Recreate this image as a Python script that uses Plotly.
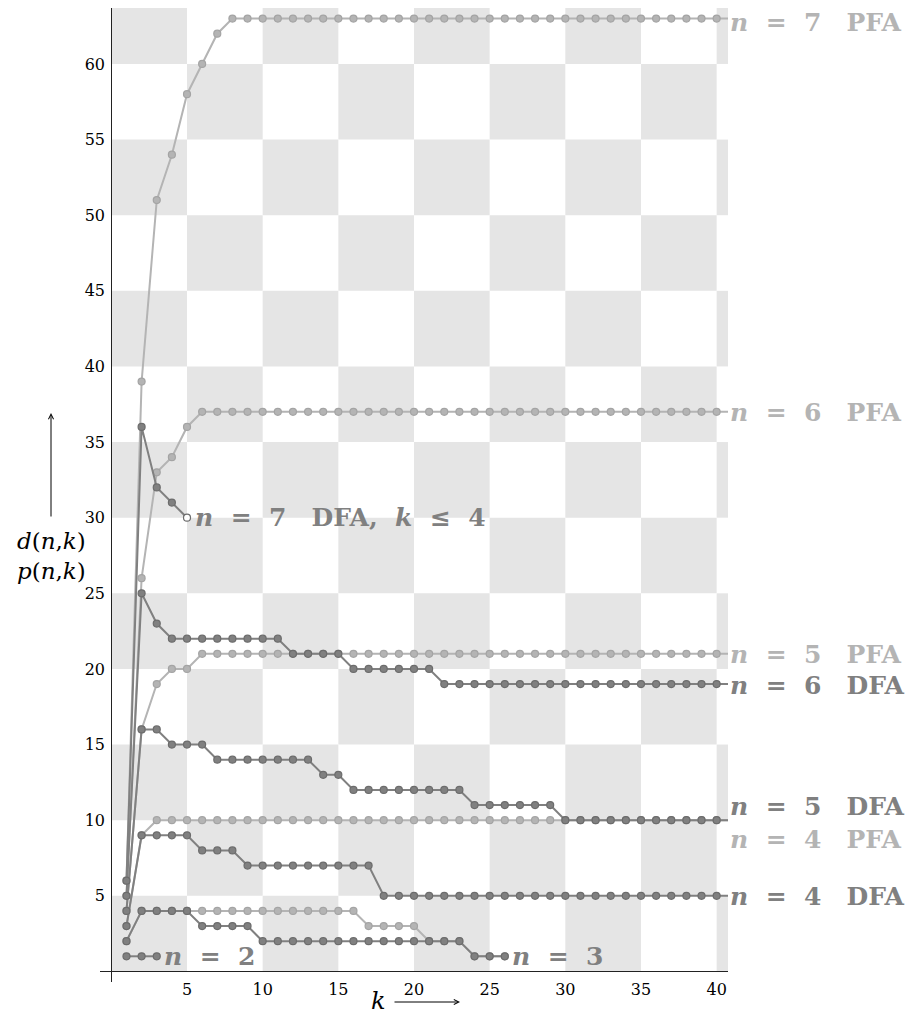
import plotly.graph_objects as go

# ---------------- data ----------------
n2_dfa = [1, 1, 1]
n3_dfa = [2, 4, 4, 4, 4, 3, 3, 3, 3, 2, 2, 2, 2, 2, 2, 2, 2, 2, 2, 2, 2, 2, 2, 1, 1, 1]
n3_pfa = [2, 4, 4, 4, 4, 4, 4, 4, 4, 4, 4, 4, 4, 4, 4, 4, 3, 3, 3, 3, 2, 2, 2, 1, 1, 1]
n4_dfa = [3, 9, 9, 9, 9, 8, 8, 8, 7, 7, 7, 7, 7, 7, 7, 7, 7, 5, 5, 5,
          5, 5, 5, 5, 5, 5, 5, 5, 5, 5, 5, 5, 5, 5, 5, 5, 5, 5, 5, 5]
n4_pfa = [3, 9, 10, 10, 10, 10, 10, 10, 10, 10, 10, 10, 10, 10, 10, 10, 10, 10, 10, 10,
          10, 10, 10, 10, 10, 10, 10, 10, 10, 10, 10, 10, 10, 10, 10, 10, 10, 10, 10, 10]
n5_dfa = [4, 16, 16, 15, 15, 15, 14, 14, 14, 14, 14, 14, 14, 13, 13, 12, 12, 12, 12, 12,
          12, 12, 12, 11, 11, 11, 11, 11, 11, 10, 10, 10, 10, 10, 10, 10, 10, 10, 10, 10]
n5_pfa = [4, 16, 19, 20, 20, 21, 21, 21, 21, 21, 21, 21, 21, 21, 21, 21, 21, 21, 21, 21,
          21, 21, 21, 21, 21, 21, 21, 21, 21, 21, 21, 21, 21, 21, 21, 21, 21, 21, 21, 21]
n6_dfa = [5, 25, 23, 22, 22, 22, 22, 22, 22, 22, 22, 21, 21, 21, 21, 20, 20, 20, 20, 20,
          20, 19, 19, 19, 19, 19, 19, 19, 19, 19, 19, 19, 19, 19, 19, 19, 19, 19, 19, 19]
n6_pfa = [5, 26, 33, 34, 36, 37, 37, 37, 37, 37, 37, 37, 37, 37, 37, 37, 37, 37, 37, 37,
          37, 37, 37, 37, 37, 37, 37, 37, 37, 37, 37, 37, 37, 37, 37, 37, 37, 37, 37, 37]
n7_dfa = [6, 36, 32, 31, 30]
n7_pfa = [6, 39, 51, 54, 58, 60, 62, 63, 63, 63, 63, 63, 63, 63, 63, 63, 63, 63, 63, 63,
          63, 63, 63, 63, 63, 63, 63, 63, 63, 63, 63, 63, 63, 63, 63, 63, 63, 63, 63, 63]

x_ticks = [5, 10, 15, 20, 25, 30, 35, 40]
y_ticks = [5, 10, 15, 20, 25, 30, 35, 40, 45, 50, 55, 60]

# ---------------- style ----------------
DARK = "#808080"
DARK_EDGE = "#6c6c6c"
LIGHT = "#b4b4b4"
LIGHT_EDGE = "#a4a4a4"
CHECK = "#e5e5e5"
X_RANGE = [-0.75, 40.75]
Y_RANGE = [-0.7, 63.7]
LABEL_K = 40.75
CELL = 5

SER = "DejaVu Serif"
SP = "\u2002\u2009"
BIG = "\u2003"
LFONT = 25

# the page body adds an 8px offset; figure sized so it fits the window
FIG_W, FIG_H = 907, 1007
OFF = 8


def lab(n, kind):
    return f"<b><i>n</i>{SP}={SP}{n}{BIG}{kind}</b>"


series = [
    # values, is_dfa, extend to right label
    (n3_pfa, False, False),
    (n4_pfa, False, True),
    (n5_pfa, False, True),
    (n6_pfa, False, True),
    (n7_pfa, False, True),
    (n2_dfa, True, False),
    (n3_dfa, True, False),
    (n4_dfa, True, True),
    (n5_dfa, True, True),
    (n6_dfa, True, True),
    (n7_dfa, True, False),
]

fig = go.Figure()

for vals, is_dfa, extend in series:
    ks = list(range(1, len(vals) + 1))
    col = DARK if is_dfa else LIGHT
    edge = DARK_EDGE if is_dfa else LIGHT_EDGE
    lx = ks + ([LABEL_K] if extend else [])
    ly = vals + ([vals[-1]] if extend else [])
    fig.add_trace(go.Scatter(x=lx, y=ly, mode="lines",
                             line=dict(color=col, width=2),
                             hoverinfo="skip", showlegend=False))
    fills = [col] * len(vals)
    if vals is n7_dfa:
        fills[-1] = "white"
    fig.add_trace(go.Scatter(x=ks, y=vals, mode="markers",
                             marker=dict(size=7, color=fills,
                                         line=dict(color=edge, width=1.2)),
                             showlegend=False))

# checkerboard background
shapes = []
i = 0
while i * CELL < X_RANGE[1]:
    j = 0
    while j * CELL < Y_RANGE[1]:
        if (i + j) % 2 == 0:
            shapes.append(dict(type="rect", xref="x", yref="y", layer="below",
                               x0=i * CELL, x1=min((i + 1) * CELL, X_RANGE[1]),
                               y0=j * CELL, y1=min((j + 1) * CELL, Y_RANGE[1]),
                               fillcolor=CHECK, line=dict(width=0)))
        j += 1
    i += 1

annotations = []


def series_label(text, x, y, color, xshift=0, yshift=0, size=LFONT):
    annotations.append(dict(text=text, x=x, y=y, xref="x", yref="y",
                            xanchor="left", yanchor="middle", showarrow=False,
                            xshift=xshift, yshift=yshift,
                            font=dict(family=SER, size=size, color=color)))


series_label(lab(7, "PFA"), LABEL_K, n7_pfa[-1], LIGHT, yshift=-4)
series_label(lab(6, "PFA"), LABEL_K, n6_pfa[-1], LIGHT, yshift=-1)
series_label(lab(5, "PFA"), LABEL_K, n5_pfa[-1], LIGHT, yshift=-1)
series_label(lab(6, "DFA"), LABEL_K, n6_dfa[-1], DARK, yshift=-1)
series_label(lab(5, "DFA"), LABEL_K, n5_dfa[-1], DARK, yshift=14)
series_label(lab(4, "PFA"), LABEL_K, n4_pfa[-1], LIGHT, yshift=-19)
series_label(lab(4, "DFA"), LABEL_K, n4_dfa[-1], DARK, yshift=-1)
series_label(f"<b><i>n</i>{SP}={SP}7{BIG}DFA,{SP}<i>k</i>{SP}≤{SP}4</b>",
             len(n7_dfa), n7_dfa[-1], DARK, xshift=6)
series_label(f"<b><i>n</i>{SP}={SP}2</b>", len(n2_dfa), n2_dfa[-1], DARK, xshift=5)
series_label(f"<b><i>n</i>{SP}={SP}3</b>", len(n3_dfa), n3_dfa[-1], DARK, xshift=5)

# plot area in (screen) pixels
L, T, W, H = 100, 8, 628, 974


def px(xp):
    return (xp - L) / W


def py(yp):
    return (T + H - yp) / H


# y-axis title with upward arrow
annotations.append(dict(x=px(51), y=py(413), xref="paper", yref="paper",
                        ax=0, ay=105, axref="pixel", ayref="pixel",
                        text="", showarrow=True, arrowhead=5, arrowsize=1,
                        arrowwidth=1, arrowcolor="black"))
annotations.append(dict(x=px(51), y=py(556), xref="paper", yref="paper",
                        text="<i>d</i>(<i>n</i>,<i>k</i>)<br><i>p</i>(<i>n</i>,<i>k</i>)",
                        showarrow=False, xanchor="center", yanchor="middle",
                        font=dict(family=SER, size=23, color="black")))
# x-axis title with rightward arrow
annotations.append(dict(x=px(378), y=py(1001), xref="paper", yref="paper",
                        text="<i>k</i>", showarrow=False,
                        xanchor="center", yanchor="middle",
                        font=dict(family=SER, size=24, color="black")))
annotations.append(dict(x=px(460), y=py(1002), xref="paper", yref="paper",
                        ax=-67, ay=0, axref="pixel", ayref="pixel",
                        text="", showarrow=True, arrowhead=5, arrowsize=1,
                        arrowwidth=1, arrowcolor="black"))

ml = L - OFF
mt = T - OFF
fig.update_layout(
    width=FIG_W, height=FIG_H,
    margin=dict(l=ml, r=FIG_W - ml - W, t=mt, b=FIG_H - mt - H, autoexpand=False),
    paper_bgcolor="white", plot_bgcolor="white",
    shapes=shapes, annotations=annotations,
    showlegend=False,
    xaxis=dict(range=X_RANGE, tickvals=x_ticks, showgrid=False,
               zeroline=True, zerolinecolor="#222222", zerolinewidth=1.2,
               showline=False, ticks="", ticklabelstandoff=-4,
               tickfont=dict(family=SER, size=16, color="black"),
               fixedrange=True),
    yaxis=dict(range=Y_RANGE, tickvals=y_ticks, showgrid=False,
               zeroline=True, zerolinecolor="#222222", zerolinewidth=1.2,
               showline=False, ticks="", ticklabelstandoff=-6,
               tickfont=dict(family=SER, size=16, color="black"),
               fixedrange=True),
)

fig.write_html("out.html")
